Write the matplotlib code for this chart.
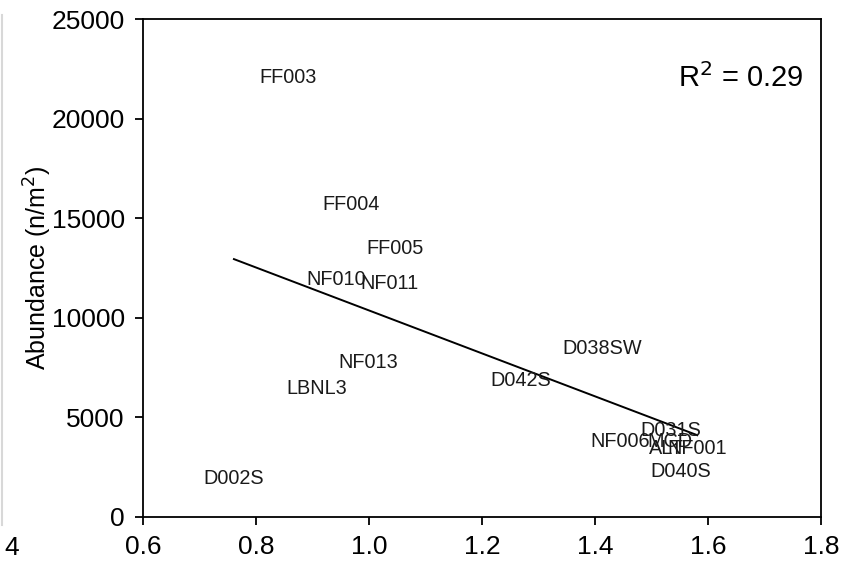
import numpy as np
import matplotlib
matplotlib.use("Agg")
import matplotlib.pyplot as plt
from matplotlib.lines import Line2D

plt.rcParams['font.family'] = ['Liberation Sans', 'DejaVu Sans']

# site labels and their positions (x, abundance)
sites = ["FF003", "FF004", "FF005", "NF010", "NF011", "NF013", "LBNL3", "D002S",
         "D038SW", "D042S", "D031S", "D040S", "NF006", "MCD", "ALT", "NF001"]
x_vals = [0.857, 0.968, 1.046, 0.942, 1.037, 0.998, 0.908, 0.761,
          1.412, 1.269, 1.535, 1.552, 1.444, 1.533, 1.527, 1.581]
abundance = [22040, 15710, 13500, 11900, 11700, 7780, 6430, 1910,
             8480, 6830, 4320, 2260, 3770, 3770, 3460, 3460]

# regression line as printed
fit_slope = -10780
fit_intercept = 21150

x_ticks = [0.6, 0.8, 1.0, 1.2, 1.4, 1.6, 1.8]
y_ticks = [0, 5000, 10000, 15000, 20000, 25000]

fig = plt.figure(figsize=(8.46, 5.66), dpi=100)
ax = fig.add_axes([0.169, 0.0866, 0.8014, 0.8798])

for name, xv, yv in zip(sites, x_vals, abundance):
    ax.text(xv, yv, name, ha='center', va='center', fontsize=14.3, color='#1a1a1a')

fx = np.array([min(x_vals), max(x_vals)])
ax.plot(fx, fit_slope * fx + fit_intercept, color='black', linewidth=1.4)

ax.text(0.975, 0.882, r"R$^2$ = 0.29", transform=ax.transAxes, ha='right', va='center',
        fontsize=21)

ax.set_xlim(0.6, 1.8)
ax.set_ylim(0, 25000)
ax.set_xticks(x_ticks)
ax.set_xticklabels([f"{t:.1f}" for t in x_ticks])
ax.set_yticks(y_ticks)
ax.tick_params(direction='out', length=6, width=1.3, labelsize=19, pad=7)
for s in ax.spines.values():
    s.set_linewidth(1.3)
ax.set_ylabel("Abundance (n/m$^2$)", fontsize=18, labelpad=-2)

# stray marks from the cropped source image
fig.text(4 / 846, 1 - 548 / 566, "4", fontsize=19, va='center', ha='left')
fig.add_artist(Line2D([2 / 846, 2 / 846], [1 - 525 / 566, 1 - 15 / 566],
                      transform=fig.transFigure, color='#d8d8d8', linewidth=1.5))

fig.savefig("out.png", dpi=100)
